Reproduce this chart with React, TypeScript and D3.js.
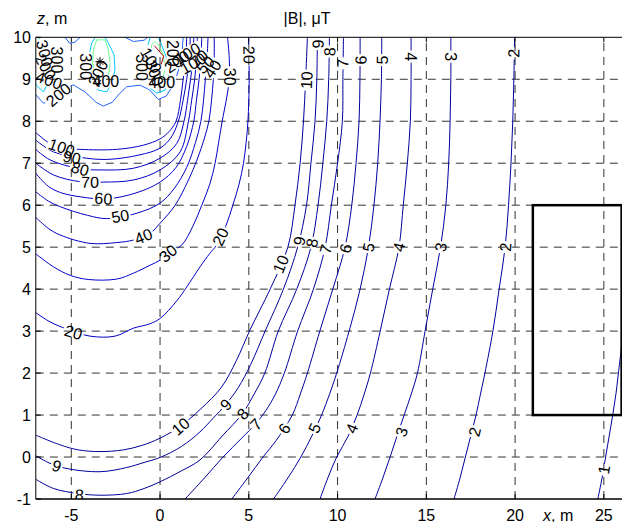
import React from 'react';
import * as d3 from 'd3';

type P = [number, number];

const xTicks = [-5, 0, 5, 10, 15, 20, 25];
const zTicks = [-1, 0, 1, 2, 3, 4, 5, 6, 7, 8, 9, 10];

// blue contour lines, |B| levels in μT, points as [x, z]
const c1: P[] = [[24.66,-1],[24.9,-0.5],[25.1,0],[25.3,0.5],[25.5,1],[25.68,1.5],[25.82,2],[26.1,3]];
const c2: P[] = [[16.56,-1],[16.9,-0.5],[17.2,0],[17.5,0.5],[17.8,1],[18.05,1.5],[18.3,2],[18.75,3],[19.1,4],[19.44,5],[19.63,6],[19.77,7],[19.87,8],[19.93,9],[19.97,10]];
const c3: P[] = [[12.11,-1],[12.55,-0.5],[12.96,0],[13.35,0.5],[13.75,1],[14.15,1.5],[14.5,2],[14.93,3],[15.36,4],[15.8,5],[16.1,6],[16.26,7],[16.34,8],[16.38,9],[16.38,10]];
const c4: P[] = [[9.01,-1],[9.45,-0.5],[9.95,0],[10.6,0.5],[11.1,1],[11.5,1.5],[11.85,2],[12.4,3],[12.92,4],[13.46,5],[13.7,6],[13.93,7],[14.1,8],[14.14,9],[14.14,10]];
const c5: P[] = [[6.39,-1],[7.2,-0.5],[7.93,0],[8.55,0.5],[9.1,1],[9.55,1.5],[9.95,2],[10.65,3],[11.27,4],[11.74,5],[12.05,6],[12.26,7],[12.39,8],[12.47,9],[12.49,10]];
const c6: P[] = [[4.04,-1],[4.93,-0.5],[5.8,0],[6.55,0.4],[7.45,1],[7.9,1.5],[8.3,2],[9.0,3],[9.73,4],[10.42,5],[10.8,6],[11.04,7],[11.21,8],[11.26,9],[11.27,10]];
const c7: P[] = [[1.41,-1],[2.5,-0.5],[3.55,0],[4.6,0.45],[5.4,0.8],[5.95,1.1],[6.5,1.5],[7.0,2],[7.75,3],[8.64,4],[9.3,5],[9.65,6],[10.0,7],[10.27,8],[10.3,9],[10.33,10]];
const c8: P[] = [[-7,-0.53],[-6,-0.75],[-4.6,-0.87],[-3.38,-0.91],[-1.88,-0.87],[-0.9,-0.75],[0,-0.59],[1.2,-0.33],[2.25,-0.07],[3.5,0.5],[4.65,1.04],[5.3,1.5],[5.9,2],[6.66,3],[7.7,4],[8.5,5],[8.9,6],[9.17,7],[9.39,8],[9.5,9],[9.54,10]];
const c9: P[] = [[-7,0.03],[-6.2,-0.15],[-5.3,-0.27],[-3.38,-0.35],[-1.88,-0.25],[-0.9,-0.13],[0,-0.01],[1.2,0.25],[2.25,0.6],[3.0,0.93],[3.7,1.25],[4.4,1.65],[5.1,2.2],[5.92,3],[6.95,4],[7.75,5],[8.25,6],[8.5,7],[8.73,8],[8.83,9],[8.86,10]];
const c10: P[] = [[-7,0.52],[-5.63,0.29],[-4.6,0.17],[-3.38,0.13],[-2.07,0.17],[-1,0.28],[0,0.45],[1.1,0.72],[2.3,1.15],[3.47,1.67],[4.3,2.3],[5.07,3.03],[6.2,4],[7.2,5],[7.6,6],[7.89,7],[8.08,8],[8.2,9],[8.3,10]];
const c20: P[] = [[-7,3.44],[-6.2,3.22],[-5.26,3.05],[-3.94,2.88],[-2.54,2.88],[-1.5,3.07],[-0.6,3.17],[0,3.3],[0.94,3.72],[1.5,4.05],[2.25,4.53],[2.8,4.85],[3.19,5.05],[3.7,5.5],[4.1,6],[4.45,6.5],[4.7,7],[4.85,7.5],[4.95,8],[5.02,9],[4.98,10]];
const c30: P[] = [[-7,4.84],[-6,4.53],[-5.07,4.33],[-4.04,4.23],[-2.44,4.24],[-1.5,4.38],[-0.56,4.57],[0,4.69],[0.5,4.87],[1.22,5.05],[1.85,5.5],[2.35,6],[2.8,6.5],[3.1,7],[3.3,7.5],[3.5,8],[3.76,8.58],[3.9,9],[3.9,9.5],[3.8,10]];
const c40: P[] = [[-7,5.71],[-6.3,5.45],[-5.63,5.29],[-3.94,5.09],[-2.44,5.11],[-1.5,5.17],[-0.56,5.33],[0,5.57],[0.85,6.0],[1.6,6.6],[2.1,7.1],[2.5,7.6],[2.75,8.0],[2.9,8.5],[3.0,9],[3.05,9.5],[3.05,10]];
const c50: P[] = [[-7,6.32],[-6.3,6.1],[-5.6,5.96],[-4.1,5.76],[-3,5.68],[-1.3,5.81],[0,6.05],[0.8,6.4],[1.5,6.9],[2.0,7.5],[2.3,8.0],[2.45,8.5],[2.55,9],[2.65,9.5],[2.7,10]];
const c60: P[] = [[-7,6.76],[-6.3,6.45],[-5.6,6.3],[-4.5,6.2],[-3,6.15],[-1.3,6.3],[0,6.55],[0.9,6.9],[1.5,7.4],[1.9,8.0],[2.05,8.5],[2.2,9],[2.3,9.5],[2.35,10]];
const c70: P[] = [[-7,7.0],[-6,6.72],[-4.5,6.56],[-3.2,6.55],[-1.5,6.6],[0,6.84],[1.13,7.27],[1.6,8.0],[1.78,8.5],[1.95,9],[2.05,9.5],[2.1,10]];
const c80: P[] = [[-7,7.33],[-6.2,7.08],[-4.5,6.87],[-3.38,6.84],[-1.5,6.88],[0,7.12],[0.94,7.47],[1.35,8.0],[1.55,8.5],[1.72,9],[1.85,9.5],[1.9,10]];
const c90: P[] = [[-7,7.55],[-6,7.27],[-4.5,7.14],[-3,7.09],[-1.13,7.2],[0,7.36],[0.6,7.6],[1.03,8.0],[1.3,8.5],[1.5,9],[1.65,9.5],[1.7,10]];
const c100: P[] = [[-7,7.73],[-6.2,7.47],[-5.5,7.37],[-4.5,7.33],[-2.44,7.33],[-0.94,7.43],[0,7.58],[0.5,7.75],[0.9,8.0],[1.15,8.5],[1.3,9],[1.45,9.5],[1.5,10]];

// contours around the conductors
const c200a: P[] = [[-7,8.63],[-6.57,8.43],[-6.1,8.5],[-5.6,8.68],[-4.9,8.87],[-4.23,8.7],[-3.6,8.45],[-3.2,8.36],[-2.7,8.45],[-2.3,8.65],[-1.88,8.82],[-1.13,8.86],[-0.6,8.75],[-0.1,8.52],[0.35,8.6],[0.8,8.9],[1.1,9.3],[1.25,9.7],[1.3,10]];
const c200b: P[] = [[-5.35,10],[-5.1,9.86],[-4.8,9.88],[-4.5,10]];
const c200c: P[] = [[-1.97,10],[-1.5,9.9],[-0.9,9.93],[-0.7,10]];
const c300a: P[] = [[-6.9,10],[-6.39,9.78],[-6.2,9.3],[-6.29,8.94],[-6.57,8.7],[-6.97,8.86],[-7.1,8.95]];
const c300b: P[] = [[-3.66,10],[-3.85,9.86],[-3.98,9.62],[-3.94,9.3],[-3.76,8.98],[-3.47,8.74],[-3.0,8.7],[-2.72,8.9],[-2.54,9.22],[-2.59,9.58],[-2.91,9.86],[-3.1,10]];
const c300c: P[] = [[-0.56,10],[-0.85,9.54],[-0.85,9.14],[-0.66,8.82],[-0.19,8.67],[0.28,8.74],[0.47,9.06],[0.41,9.46],[0.09,9.82],[-0.09,10]];
const c400a: P[] = [[-6.85,10],[-6.48,9.7],[-6.39,9.38],[-6.57,9.06],[-6.9,8.98],[-7.1,9.0]];
const c400b: P[] = [[-3.57,9.94],[-3.76,9.7],[-3.79,9.38],[-3.66,9.06],[-3.29,8.94],[-2.91,9.06],[-2.82,9.38],[-2.91,9.7],[-3.1,9.94],[-3.57,9.94]];
const c400c: P[] = [[-0.28,9.9],[-0.47,9.82],[-0.6,9.54],[-0.56,9.14],[-0.28,8.9],[0.09,8.94],[0.28,9.22],[0.19,9.58],[-0.09,9.82],[-0.28,9.9]];
const cRedA: P[] = [[-7,9.8],[-6.55,9.55],[-6.8,9.35],[-7,9.4]];
const cRedC: P[] = [[-0.32,9.8],[0.2,9.55],[0.06,9.35]];

const wireStar: P[] = [[-3.38, 9.42]];
const building: P[] = [[21, 1], [26, 6]];

const blueLines: { lv: number; pts: P[] }[] = [
  { lv: 1, pts: c1 }, { lv: 2, pts: c2 }, { lv: 3, pts: c3 }, { lv: 4, pts: c4 },
  { lv: 5, pts: c5 }, { lv: 6, pts: c6 }, { lv: 7, pts: c7 }, { lv: 8, pts: c8 },
  { lv: 9, pts: c9 }, { lv: 10, pts: c10 }, { lv: 20, pts: c20 }, { lv: 30, pts: c30 },
  { lv: 40, pts: c40 }, { lv: 50, pts: c50 }, { lv: 60, pts: c60 }, { lv: 70, pts: c70 },
  { lv: 80, pts: c80 }, { lv: 90, pts: c90 }, { lv: 100, pts: c100 },
];

const wireLines: { color: string; pts: P[] }[] = [
  { color: '#2262ff', pts: c200a }, { color: '#2262ff', pts: c200b }, { color: '#2262ff', pts: c200c },
  { color: '#00c8ff', pts: c300a }, { color: '#00c8ff', pts: c300b }, { color: '#00c8ff', pts: c300c },
  { color: '#70ff90', pts: c400a }, { color: '#70ff90', pts: c400b }, { color: '#70ff90', pts: c400c },
  { color: '#b00000', pts: cRedA }, { color: '#b00000', pts: cRedC },
];

// inline labels on blue lines: [text, x, z, level]
const lineLabels: [string, number, number, number][] = [
  ['1', 25.0, -0.3, 1],
  ['2', 17.72, 0.6, 2], ['2', 19.45, 5.0, 2], ['2', 19.92, 9.62, 2],
  ['3', 13.6, 0.6, 3], ['3', 15.8, 5.0, 3], ['3', 16.36, 9.54, 3],
  ['4', 10.8, 0.68, 4], ['4', 13.46, 5.0, 4], ['4', 14.14, 9.54, 4],
  ['5', 8.7, 0.69, 5], ['5', 11.74, 5.0, 5], ['5', 12.5, 9.46, 5],
  ['6', 7.0, 0.68, 6], ['6', 10.45, 4.97, 6], ['6', 11.3, 9.46, 6],
  ['7', 5.4, 0.78, 7], ['7', 9.33, 4.95, 7], ['7', 10.28, 9.38, 7],
  ['8', 4.65, 1.03, 8], ['8', 8.55, 5.1, 8], ['8', 9.55, 9.66, 8], ['8', -4.55, -0.9, 8],
  ['9', 3.7, 1.25, 9], ['9', 7.85, 5.15, 9], ['9', 8.88, 9.84, 9], ['9', -5.82, -0.21, 9],
  ['10', 1.15, 0.73, 10], ['10', 6.8, 4.6, 10], ['10', 8.25, 8.98, 10],
  ['20', -4.88, 2.97, 20], ['20', 3.4, 5.25, 20], ['20', 5.02, 9.58, 20],
  ['30', 0.45, 4.85, 30], ['30', 3.9, 9.06, 30],
  ['40', -0.94, 5.26, 40], ['50', -2.25, 5.74, 50], ['60', -3.19, 6.16, 60],
  ['70', -3.94, 6.55, 70], ['80', -4.5, 6.87, 80], ['90', -4.97, 7.14, 90], ['100', -5.54, 7.38, 100],
];

// labels crowded around the conductors: [text, x, z, angle]
const wireLabels: [string, number, number, number][] = [
  ['200', -5.73, 8.63, -40], ['300', -5.82, 9.46, 90],
  ['300', -6.5, 9.62, 75], ['200', -6.45, 9.3, 60], ['400', -6.25, 8.98, 20],
  ['300', -4.2, 9.3, 90], ['200', -3.5, 9.15, -65], ['400', -3.05, 8.95, 0],
  ['300', -1.05, 9.28, 90], ['100', -0.5, 9.45, 60], ['300', -0.3, 9.15, 70], ['400', 0.1, 8.93, 0],
  ['200', 0.72, 9.62, 90], ['200', 0.95, 9.42, -35], ['100', 1.55, 9.62, -30], ['100', 1.85, 9.38, -30],
  ['70', 2.2, 9.5, -40], ['50', 2.55, 9.35, -45], ['40', 2.95, 9.25, -55],
];

const W = 622, H = 522;
const x = d3.scaleLinear().domain([-7, 26]).range([35.8, 621.6]);
const y = d3.scaleLinear().domain([-1, 10]).range([499, 37.3]);
const FS = 16;
const FONT = "'Liberation Sans', Arial, Helvetica, sans-serif";

function angleOn(pts: P[], lx: number, lz: number): number {
  const px = x(lx), py = y(lz);
  let best = Infinity, ang = 0;
  for (let i = 0; i < pts.length - 1; i++) {
    const ax = x(pts[i][0]), ay = y(pts[i][1]);
    const bx = x(pts[i + 1][0]), by = y(pts[i + 1][1]);
    const dx = bx - ax, dy = by - ay;
    const L = dx * dx + dy * dy || 1;
    let t = ((px - ax) * dx + (py - ay) * dy) / L;
    t = Math.max(0, Math.min(1, t));
    const qx = ax + t * dx - px, qy = ay + t * dy - py;
    const d = qx * qx + qy * qy;
    if (d < best) { best = d; ang = (Math.atan2(dy, dx) * 180) / Math.PI; }
  }
  while (ang > 90) ang -= 180;
  while (ang <= -90) ang += 180;
  return ang;
}

export default function App() {
  const smooth = d3.line<P>().x(d => x(d[0])).y(d => y(d[1])).curve(d3.curveCatmullRom.alpha(0.5));
  const lin = d3.line<P>().x(d => x(d[0])).y(d => y(d[1]));
  const byLevel = new Map(blueLines.map(b => [b.lv, b.pts]));

  const allLabels = [
    ...lineLabels.map(([t, lx, lz, lv]) => ({ t, lx, lz, a: angleOn(byLevel.get(lv)!, lx, lz) })),
    ...wireLabels.map(([t, lx, lz, a]) => ({ t, lx, lz, a })),
  ];

  const x0 = x(-7), y0 = y(10), y1 = y(-1);

  return (
    <svg width={W} height={H} style={{ position: 'absolute', left: 0, top: 0 }} fontFamily={FONT}>
      <defs>
        <clipPath id="plotclip">
          <rect x={x0} y={y0} width={W - x0} height={y1 - y0} />
        </clipPath>
        <mask id="lblmask" maskUnits="userSpaceOnUse" x={0} y={0} width={W} height={H}>
          <rect x={0} y={0} width={W} height={H} fill="white" />
          {allLabels.map((l, i) => {
            const w = l.t.length * FS * 0.56 + 3;
            const h = FS * 0.78;
            const px = x(l.lx), py = y(l.lz);
            return (
              <rect key={i} x={px - w / 2} y={py - h / 2} width={w} height={h} fill="black"
                transform={`rotate(${l.a},${px},${py})`} />
            );
          })}
        </mask>
      </defs>
      <rect x={0} y={0} width={W} height={H} fill="white" />

      {/* grid */}
      <g stroke="#333" strokeWidth={1} strokeDasharray="8,6" fill="none">
        {xTicks.map(t => (
          <line key={'gx' + t} x1={x(t)} x2={x(t)} y1={y1} y2={y0} />
        ))}
        {zTicks.filter(t => t > -1 && t < 10).map(t => (
          <line key={'gz' + t} x1={x0} x2={W} y1={y(t)} y2={y(t)} />
        ))}
      </g>

      {/* contours */}
      <g clipPath="url(#plotclip)">
        <g mask="url(#lblmask)" fill="none" strokeWidth={1}>
          {blueLines.map(b => (
            <path key={'b' + b.lv} d={smooth(b.pts)!} stroke={b.lv <= 10 ? '#00009c' : '#0000c4'} />
          ))}
          {wireLines.map((w, i) => (
            <path key={'w' + i} d={lin(w.pts)!} stroke={w.color} />
          ))}
        </g>
        {wireStar.map((s, i) => {
          const px = x(s[0]), py = y(s[1]);
          const r = 4.5;
          return (
            <g key={'s' + i} stroke="#000" strokeWidth={1}>
              <line x1={px - r} x2={px + r} y1={py} y2={py} />
              <line x1={px} x2={px} y1={py - r} y2={py + r} />
              <line x1={px - r * 0.7} x2={px + r * 0.7} y1={py - r * 0.7} y2={py + r * 0.7} />
              <line x1={px - r * 0.7} x2={px + r * 0.7} y1={py + r * 0.7} y2={py - r * 0.7} />
            </g>
          );
        })}
        <rect x={x(building[0][0])} y={y(building[1][1])}
          width={x(building[1][0]) - x(building[0][0])} height={y(building[0][1]) - y(building[1][1])}
          fill="none" stroke="#000" strokeWidth={2.5} />
        {/* contour labels */}
        <g fontSize={FS} fill="#000" textAnchor="middle">
          {allLabels.map((l, i) => {
            const px = x(l.lx), py = y(l.lz);
            return (
              <text key={i} x={px} y={py} dy="0.36em" transform={`rotate(${l.a},${px},${py})`}>{l.t}</text>
            );
          })}
        </g>
      </g>

      {/* axes */}
      <g stroke="#000" strokeWidth={1} fill="none">
        <line x1={x0} x2={x0} y1={y0} y2={y1} />
        <line x1={x0} x2={W} y1={y0} y2={y0} />
        <line x1={x0} x2={W} y1={y1} y2={y1} strokeWidth={1.3} />
        {xTicks.map(t => (
          <g key={'tx' + t}>
            <line x1={x(t)} x2={x(t)} y1={y1} y2={y1 - 5} />
            <line x1={x(t)} x2={x(t)} y1={y0} y2={y0 + 5} />
          </g>
        ))}
        {zTicks.map(t => (
          <line key={'tz' + t} x1={x0} x2={x0 + 5} y1={y(t)} y2={y(t)} />
        ))}
      </g>

      <g fontSize={16} fill="#000">
        {xTicks.map(t => (
          <text key={'lx' + t} x={x(t)} y={520.5} textAnchor="middle">{t}</text>
        ))}
        {zTicks.map(t => (
          <text key={'lz' + t} x={31} y={y(t)} dy="0.36em" textAnchor="end">{t}</text>
        ))}
        <text x={37} y={24}><tspan fontStyle="italic">z</tspan>, m</text>
        <text x={543} y={520.5}><tspan fontStyle="italic">x</tspan>, m</text>
        <text x={307} y={24} textAnchor="middle">|B|, μT</text>
      </g>
    </svg>
  );
}
